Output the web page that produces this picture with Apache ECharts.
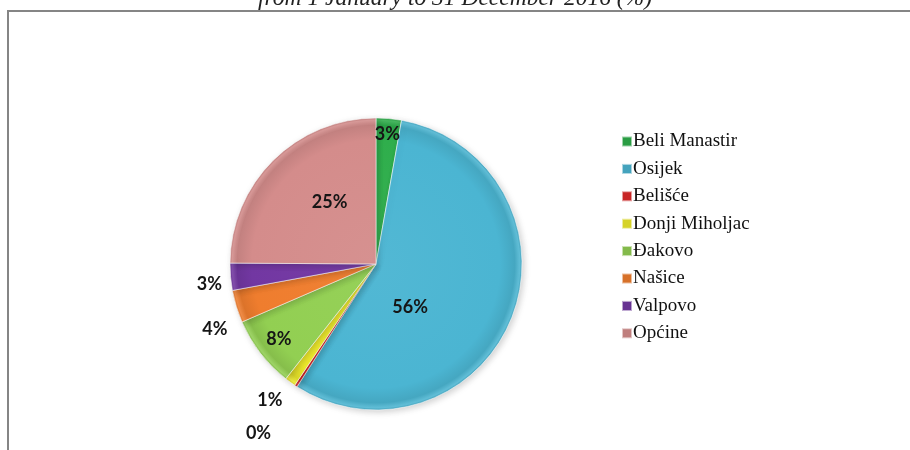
<!DOCTYPE html>
<html>
<head>
<meta charset="utf-8">
<title>Pie chart</title>
<script src="https://cdn.jsdelivr.net/npm/echarts@6/dist/echarts.min.js"></script>
<style>
  html, body { margin: 0; padding: 0; background: #ffffff; }
  #chart { width: 910px; height: 450px; }
</style>
</head>
<body>
<div id="chart"></div>
<script>
// Share by town, 1 January - 31 December 2016 (%)
const categories = ['Beli Manastir', 'Osijek', 'Belišće', 'Donji Miholjac', 'Đakovo', 'Našice', 'Valpovo', 'Općine'];
const shares = [2.8, 56.3, 0.3, 1.2, 7.9, 3.6, 3.0, 24.9];
const sliceColors = ['#2fae4c', '#4bb5d2', '#de2a2a', '#eeea2c', '#92cf52', '#ef7d2e', '#7237a2', '#d48c8b'];

// Label placement: [fraction of radius, angular nudge in degrees]
const labelPlacement = [[0.89, 0], [0.375, 30], [1.41, 1.5], [1.18, 2], [0.84, 0], [1.19, -5], [1.15, -2], [0.53, 8]];

const PIE_CX = 376, PIE_CY = 264, PIE_R = 146;

function shade(hex, f) {
  const n = parseInt(hex.slice(1), 16);
  let r = (n >> 16) & 255, g = (n >> 8) & 255, b = n & 255;
  if (f < 0) { r = r * (1 + f); g = g * (1 + f); b = b * (1 + f); }
  else { r = r + (255 - r) * f; g = g + (255 - g) * f; b = b + (255 - b) * f; }
  return 'rgb(' + Math.round(r) + ',' + Math.round(g) + ',' + Math.round(b) + ')';
}

function sliceFill(c) {
  return new echarts.graphic.RadialGradient(PIE_CX, PIE_CY, PIE_R, [
    { offset: 0, color: shade(c, 0.04) },
    { offset: 0.85, color: c },
    { offset: 0.95, color: shade(c, -0.08) },
    { offset: 0.985, color: shade(c, 0.12) },
    { offset: 1, color: shade(c, -0.1) }
  ], true);
}

const total = shares.reduce((a, b) => a + b, 0);
const midAngles = [];
let acc = 0;
shares.forEach(v => { midAngles.push((acc + v / 2) / total * 360); acc += v; });

const chart = echarts.init(document.getElementById('chart'), null, { renderer: 'canvas' });

chart.setOption({
  backgroundColor: '#ffffff',
  animation: false,
  title: {
    text: 'from 1 January to 31 December 2016 (%)',
    left: 'center',
    top: -13,
    padding: 0,
    textStyle: {
      fontFamily: 'Liberation Serif',
      fontStyle: 'italic',
      fontWeight: 'normal',
      fontSize: 23.5,
      color: '#222222'
    }
  },
  graphic: [{
    type: 'rect',
    silent: true,
    z: -1,
    shape: { x: 8, y: 11, width: 1000, height: 500 },
    style: { fill: 'none', stroke: '#858585', lineWidth: 2 }
  }],
  legend: {
    orient: 'vertical',
    left: 616,
    top: 127,
    itemWidth: 10,
    itemHeight: 10,
    itemGap: 8.4,
    icon: 'rect',
    data: categories,
    textStyle: {
      fontFamily: 'Liberation Serif',
      fontSize: 19,
      lineHeight: 19,
      color: '#111111',
      padding: [0, 0, 0, -4]
    }
  },
  series: [{
    type: 'pie',
    center: [PIE_CX, PIE_CY],
    radius: PIE_R,
    startAngle: 90,
    clockwise: true,
    avoidLabelOverlap: false,
    itemStyle: {
      borderColor: 'rgba(255,255,255,0.55)',
      borderWidth: 1,
      shadowBlur: 6,
      shadowOffsetX: 2,
      shadowOffsetY: 2,
      shadowColor: 'rgba(0,0,0,0.18)'
    },
    label: {
      show: true,
      position: 'inside',
      formatter: p => Math.round(p.value) + '%',
      fontFamily: 'Lato',
      fontWeight: 'bold',
      fontSize: 18,
      color: '#161616'
    },
    labelLine: { show: false },
    labelLayout: params => {
      const i = params.dataIndex;
      const pl = labelPlacement[i];
      const a = (midAngles[i] + pl[1]) * Math.PI / 180;
      const rr = pl[0] * PIE_R;
      return {
        x: PIE_CX + rr * Math.sin(a),
        y: PIE_CY - rr * Math.cos(a),
        align: 'center',
        verticalAlign: 'middle'
      };
    },
    emphasis: { disabled: true },
    data: categories.map((name, i) => ({
      name: name,
      value: shares[i],
      itemStyle: { color: sliceFill(sliceColors[i]) }
    }))
  }],
  color: sliceColors
});
</script>
</body>
</html>
